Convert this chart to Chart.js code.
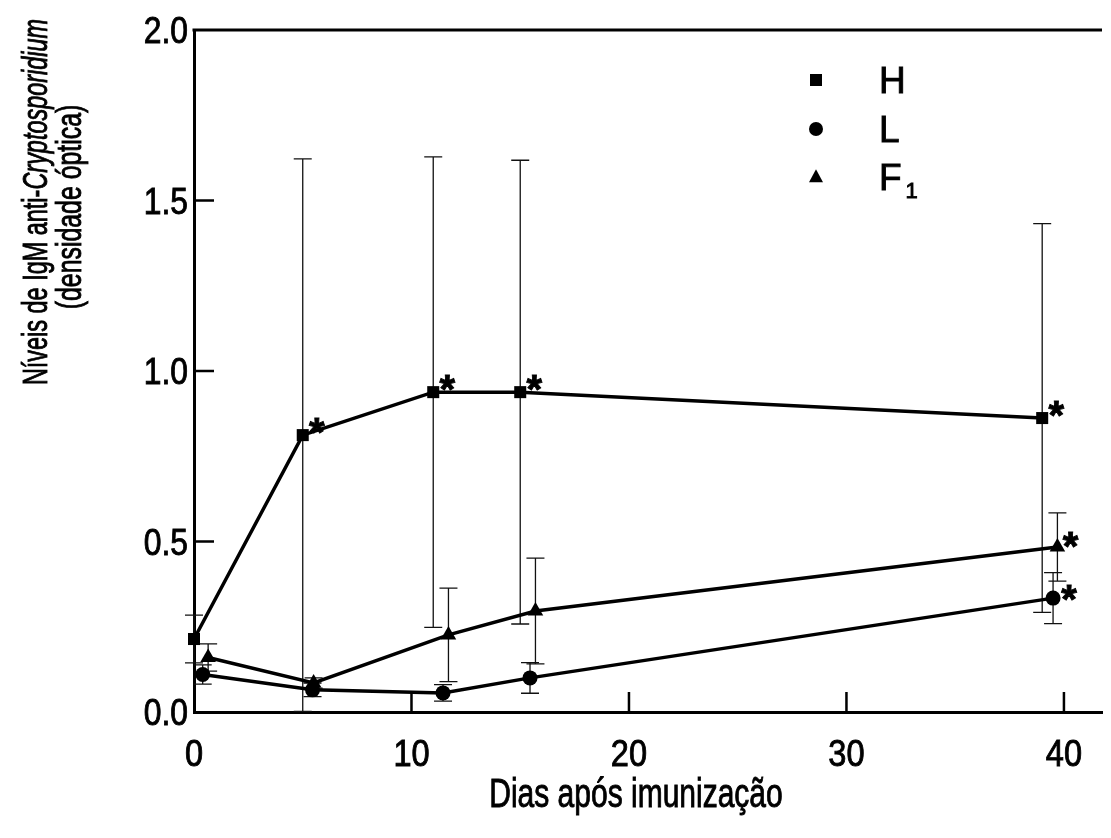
<!DOCTYPE html>
<html lang="pt">
<head>
<meta charset="UTF-8" />
<title>IgM anti-Cryptosporidium</title>
<script src="https://cdn.jsdelivr.net/npm/chart.js"></script>
<style>
  html, body { margin: 0; padding: 0; background: #fff; }
  canvas { display: block; }
</style>
</head>
<body>
<canvas id="igmChart" width="1111" height="838"></canvas>
<script>
  // values (dias apos imunizacao / densidade optica)
  const daysH = [0, 5, 11, 15, 39];
  const igmH = [0.214, 0.812, 0.938, 0.938, 0.862];
  const errH = [0.07, 0.81, 0.69, 0.68, 0.57];
  const starH = [false, true, true, true, true];

  const daysL = [0.4, 5.45, 11.45, 15.45, 39.5];
  const igmL = [0.11, 0.065, 0.056, 0.10, 0.334];
  const errL = [0.028, 0.02, 0.024, 0.045, 0.075];
  const starL = [false, false, false, false, true];

  const daysF = [0.65, 5.5, 11.7, 15.7, 39.7];
  const igmF = [0.16, 0.085, 0.226, 0.296, 0.484];
  const errF = [0.04, 0.015, 0.137, 0.155, 0.10];
  const starF = [false, false, false, false, true];

  const seriesNames = ['H', 'L', 'F1'];
  const xTicks = [0, 10, 20, 30, 40];
  const yTicks = [0.0, 0.5, 1.0, 1.5, 2.0];

  const FONT = '"Liberation Sans", Arial, sans-serif';

  function points(days, vals) {
    return days.map((d, i) => ({ x: d, y: vals[i] }));
  }

  function marker(ctx, style, x, y, r) {
    ctx.beginPath();
    if (style === 'rect') {
      ctx.rect(x - r, y - r, 2 * r, 2 * r);
    } else if (style === 'circle') {
      ctx.arc(x, y, r, 0, Math.PI * 2);
    } else {
      ctx.moveTo(x, y - r * 1.1);
      ctx.lineTo(x + r, y + r * 0.75);
      ctx.lineTo(x - r, y + r * 0.75);
      ctx.closePath();
    }
    ctx.fill();
  }

  // narrow text: the figure uses a condensed sans, printed a bit heavy
  function narrowText(ctx, text, x, y, font, sx, align) {
    ctx.save();
    ctx.translate(x, y);
    ctx.scale(sx, 1);
    ctx.font = font;
    ctx.textAlign = align;
    ctx.lineWidth = 0.9;
    ctx.fillText(text, 0, 0);
    ctx.strokeText(text, 0, 0);
    ctx.restore();
  }

  // error bars under the marks, then ticks, stars, legend and titles on top
  const extras = {
    id: 'extras',
    beforeDatasetsDraw(chart) {
      const ctx = chart.ctx;
      const xs = chart.scales.x, ys = chart.scales.y;
      ctx.save();
      ctx.strokeStyle = '#111';
      ctx.lineWidth = 1.3;
      chart.data.datasets.forEach(ds => {
        ds.data.forEach((p, i) => {
          const e = ds.errors[i];
          const px = xs.getPixelForValue(p.x);
          const top = ys.getPixelForValue(p.y + e);
          const bot = ys.getPixelForValue(Math.max(p.y - e, 0));
          ctx.beginPath();
          ctx.moveTo(px, top); ctx.lineTo(px, bot);
          ctx.moveTo(px - 9, top); ctx.lineTo(px + 9, top);
          ctx.moveTo(px - 9, bot); ctx.lineTo(px + 9, bot);
          ctx.stroke();
        });
      });
      ctx.restore();
    },
    afterDraw(chart) {
      const ctx = chart.ctx;
      const area = chart.chartArea;
      const xs = chart.scales.x, ys = chart.scales.y;
      ctx.save();
      ctx.strokeStyle = '#000';
      ctx.fillStyle = '#000';
      ctx.textBaseline = 'alphabetic';

      // top frame line
      ctx.lineWidth = 3;
      ctx.beginPath();
      ctx.moveTo(area.left - 1.5, area.top);
      ctx.lineTo(area.right, area.top);
      ctx.stroke();

      // tick marks pointing into the plot
      ctx.lineWidth = 2.5;
      ctx.beginPath();
      yTicks.forEach(v => {
        if (v <= 0 || v >= 2) return;
        const py = ys.getPixelForValue(v);
        ctx.moveTo(area.left, py); ctx.lineTo(area.left + 20, py);
      });
      xTicks.forEach(v => {
        if (v <= 0) return;
        const px = xs.getPixelForValue(v);
        ctx.moveTo(px, area.bottom); ctx.lineTo(px, area.bottom - 20);
      });
      ctx.stroke();

      // tick labels
      yTicks.forEach(v => {
        narrowText(ctx, v.toFixed(1), area.left - 6, ys.getPixelForValue(v) + 13,
          '37px ' + FONT, 0.86, 'right');
      });
      xTicks.forEach(v => {
        narrowText(ctx, String(v), xs.getPixelForValue(v), area.bottom + 54,
          '37px ' + FONT, 0.88, 'center');
      });

      // significance stars
      chart.data.datasets.forEach(ds => {
        ds.data.forEach((p, i) => {
          if (!ds.stars[i]) return;
          const px = xs.getPixelForValue(p.x) + ds.starDx;
          const py = ys.getPixelForValue(p.y) + ds.starDy;
          narrowText(ctx, '*', px, py + 23, 'bold 40px ' + FONT, 1, 'center');
        });
      });

      // legend
      const legendY = [80, 129, 177];
      chart.data.datasets.forEach((ds, i) => {
        marker(ctx, ds.pointStyle, 816, legendY[i], ds.legendR);
        const name = seriesNames[i];
        narrowText(ctx, name.charAt(0), 879, legendY[i] + 13, '37px ' + FONT, 1, 'left');
        if (name.length > 1) {
          ctx.font = '37px ' + FONT;
          const w = ctx.measureText(name.charAt(0)).width;
          narrowText(ctx, name.slice(1), 879 + w + 4, legendY[i] + 21, '22px ' + FONT, 1, 'left');
        }
      });

      // x title
      narrowText(ctx, 'Dias após imunização', 636, 807, '40px ' + FONT, 0.75, 'center');

      // y title, two lines, with italic genus name
      const parts = [
        { t: 'Níveis de IgM anti-', f: '35px ' + FONT },
        { t: 'Cryptosporidium', f: 'italic 35px ' + FONT }
      ];
      ctx.save();
      ctx.translate(47, 202);
      ctx.rotate(-Math.PI / 2);
      ctx.font = parts[0].f;
      let total = 0;
      parts.forEach(p => { ctx.font = p.f; total += ctx.measureText(p.t).width * 0.67; });
      let cx = -total / 2;
      parts.forEach(p => {
        narrowText(ctx, p.t, cx, 0, p.f, 0.67, 'left');
        ctx.font = p.f;
        cx += ctx.measureText(p.t).width * 0.67;
      });
      ctx.restore();

      ctx.save();
      ctx.translate(81, 207);
      ctx.rotate(-Math.PI / 2);
      narrowText(ctx, '(densidade óptica)', 0, 0, '35px ' + FONT, 0.71, 'center');
      ctx.restore();

      ctx.restore();
    }
  };

  const ctx = document.getElementById('igmChart').getContext('2d');
  const common = {
    showLine: true,
    borderColor: '#000',
    backgroundColor: '#000',
    pointBackgroundColor: '#000',
    pointBorderWidth: 0,
    borderWidth: 3.5,
    tension: 0,
    clip: false
  };

  new Chart(ctx, {
    type: 'scatter',
    data: {
      datasets: [
        Object.assign({}, common, {
          label: seriesNames[0], data: points(daysH, igmH), errors: errH, stars: starH,
          pointStyle: 'rect', pointRadius: 8.5, legendR: 6, starDx: 14, starDy: -12
        }),
        Object.assign({}, common, {
          label: seriesNames[1], data: points(daysL, igmL), errors: errL, stars: starL,
          pointStyle: 'circle', pointRadius: 7.5, legendR: 7, starDx: 16, starDy: -8
        }),
        Object.assign({}, common, {
          label: seriesNames[2], data: points(daysF, igmF), errors: errF, stars: starF,
          pointStyle: 'triangle', pointRadius: 9, legendR: 7, starDx: 13, starDy: -10
        })
      ]
    },
    options: {
      responsive: false,
      animation: false,
      layout: { padding: { left: 0, top: 30, right: 0, bottom: 0 } },
      plugins: {
        legend: { display: false },
        tooltip: { enabled: false }
      },
      scales: {
        x: {
          type: 'linear',
          min: 0,
          max: 41.75,
          afterBuildTicks: s => { s.ticks = xTicks.map(v => ({ value: v })); },
          afterFit: s => { s.height = 126; },
          grid: { display: true, drawOnChartArea: false, drawTicks: false },
          border: { display: true, color: '#000', width: 3 },
          ticks: { display: false }
        },
        y: {
          type: 'linear',
          min: 0,
          max: 2,
          afterBuildTicks: s => { s.ticks = yTicks.map(v => ({ value: v })); },
          afterFit: s => { s.width = 194; },
          grid: { display: true, drawOnChartArea: false, drawTicks: false },
          border: { display: true, color: '#000', width: 3 },
          ticks: { display: false }
        }
      }
    },
    plugins: [extras]
  });
</script>
</body>
</html>
